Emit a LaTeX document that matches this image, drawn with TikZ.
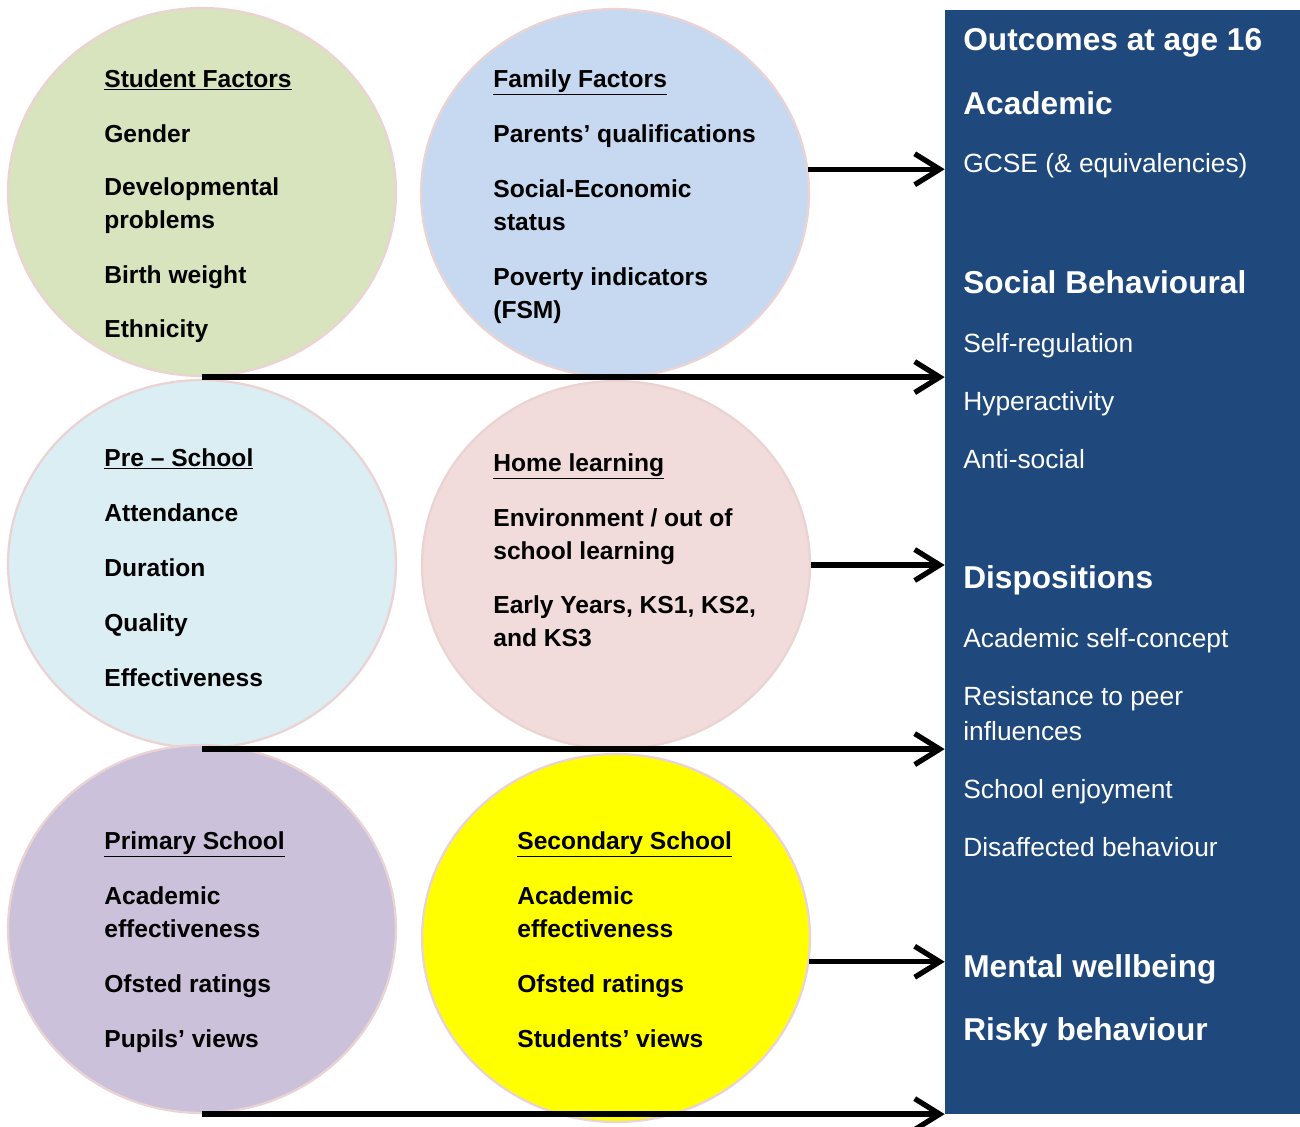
\documentclass[tikz,border=0pt]{standalone}
\usepackage{fontspec}
\setmainfont{Liberation Sans}
\usetikzlibrary{shapes.geometric, arrows.meta, positioning}
\definecolor{studentgreen}{HTML}{D7E4BD}
\definecolor{familyblue}{HTML}{C6D9F1}
\definecolor{preblue}{HTML}{DBEEF4}
\definecolor{homepink}{HTML}{F2DCDB}
\definecolor{primarylilac}{HTML}{CCC1DA}
\definecolor{secondaryyellow}{HTML}{FFFF00}
\definecolor{outcomenavy}{HTML}{1F497D}
\definecolor{rimpink}{HTML}{EBD3D3}
\tikzset{
  factor/.style={ellipse, draw=rimpink, line width=1.3pt, inner sep=0pt,
    minimum width=7.76cm, minimum height=7.36cm},
  item/.style={anchor=base west, inner sep=0pt, align=left,
    font=\fontsize{14}{18.7}\selectfont\bfseries},
  outhead/.style={anchor=base west, inner sep=0pt, text=white,
    font=\fontsize{18}{22}\selectfont\bfseries},
  outitem/.style={anchor=base west, inner sep=0pt, text=white, align=left,
    font=\fontsize{15}{19.8}\selectfont},
  flow/.style={line width=3pt, -{Straight Barb[length=0.5cm, width=0.62cm]}}
}
\begin{document}
\begin{tikzpicture}[x=0.02cm, y=-0.02cm]
  \useasboundingbox (0,0) rectangle (1300,1126);

  % outcomes panel
  \node[fill=outcomenavy, draw=outcomenavy, inner sep=0pt,
    minimum width=7.1cm, minimum height=22.06cm] (panel) at (1122.5,561.5) {};

  % factor circles
  \node[factor, fill=studentgreen] (student) at (202,192) {};
  \node[factor, fill=familyblue] (family) at (615,193) {};
  \node[factor, fill=preblue] (preschool) at (202,564) {};
  \node[factor, fill=homepink] (home) at (616,565) {};
  \node[factor, fill=primarylilac] (primary) at (202,929) {};
  \node[factor, fill=secondaryyellow] (secondary) at (616,938) {};

  % student factors (multi-line nodes sit on their last line)
  \node[item] (s0) at (104,87) {\underline{Student Factors}};
  \node[item] (s1) at (104,142) {Gender};
  \node[item] (s2) at (104,228) {Developmental\\problems};
  \node[item] (s3) at (104,283) {Birth weight};
  \node[item] (s4) at (104,337) {Ethnicity};

  % family factors
  \node[item] (f0) at (493,87) {\underline{Family Factors}};
  \node[item] (f1) at (493,142) {Parents’ qualifications};
  \node[item] (f2) at (493,230) {Social-Economic\\status};
  \node[item] (f3) at (493,318) {Poverty indicators\\(FSM)};

  % pre-school
  \node[item] (p0) at (104,466) {\underline{Pre -- School}};
  \node[item] (p1) at (104,521) {Attendance};
  \node[item] (p2) at (104,576) {Duration};
  \node[item] (p3) at (104,631) {Quality};
  \node[item] (p4) at (104,686) {Effectiveness};

  % home learning
  \node[item] (h0) at (493,471) {\underline{Home learning}};
  \node[item] (h1) at (493,559) {Environment / out of\\school learning};
  \node[item] (h2) at (493,646) {Early Years, KS1, KS2,\\and KS3};

  % primary school
  \node[item] (r0) at (104,849) {\underline{Primary School}};
  \node[item] (r1) at (104,937) {Academic\\effectiveness};
  \node[item] (r2) at (104,992) {Ofsted ratings};
  \node[item] (r3) at (104,1047) {Pupils’ views};

  % secondary school
  \node[item] (c0) at (517,849) {\underline{Secondary School}};
  \node[item] (c1) at (517,937) {Academic\\effectiveness};
  \node[item] (c2) at (517,992) {Ofsted ratings};
  \node[item] (c3) at (517,1047) {Students’ views};

  % outcomes
  \node[outhead] (o0) at (963,50) {Outcomes at age 16};
  \node[outhead] (o1) at (963,114) {Academic};
  \node[outitem] (o2) at (963,172) {GCSE (\& equivalencies)};
  \node[outhead] (o3) at (963,293) {Social Behavioural};
  \node[outitem] (o4) at (963,352) {Self-regulation};
  \node[outitem] (o5) at (963,410) {Hyperactivity};
  \node[outitem] (o6) at (963,468) {Anti-social};
  \node[outhead] (o7) at (963,588) {Dispositions};
  \node[outitem] (o8) at (963,647) {Academic self-concept};
  \node[outitem] (o9) at (963,740) {Resistance to peer\\influences};
  \node[outitem] (o10) at (963,798) {School enjoyment};
  \node[outitem] (o11) at (963,856) {Disaffected behaviour};
  \node[outhead] (o12) at (963,977) {Mental wellbeing};
  \node[outhead] (o13) at (963,1040) {Risky behaviour};

  % arrows into outcomes
  \draw[flow] (family.7) -- (family.7 -| panel.west);
  \draw[flow] (student.south) -- (student.south -| panel.west);
  \draw[flow] (home.east) -- (home.east -| panel.west);
  \draw[flow] (preschool.south) -- (preschool.south -| panel.west);
  \draw[flow] (secondary.-7) -- (secondary.-7 -| panel.west);
  \draw[flow] (primary.south) -- (primary.south -| panel.west);
\end{tikzpicture}
\end{document}
